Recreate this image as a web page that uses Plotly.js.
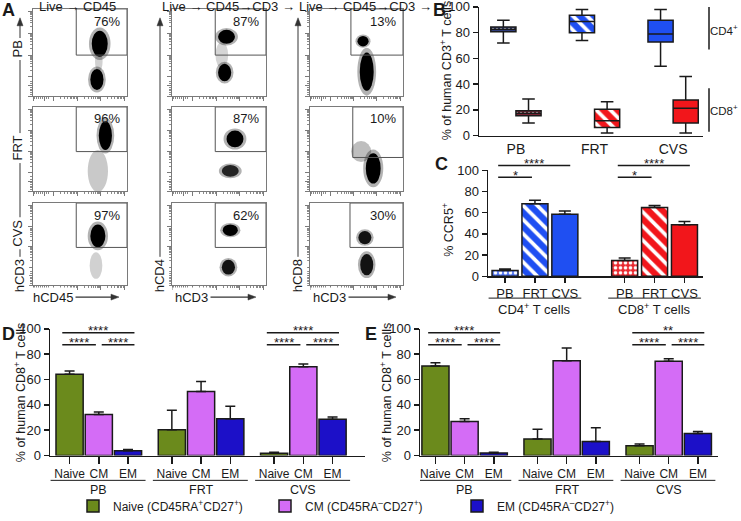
<!DOCTYPE html>
<html><head><meta charset="utf-8">
<script src="https://cdn.plot.ly/plotly-3.0.1.min.js"></script>
<style>html,body{margin:0;padding:0;background:#fff;}#chart{width:741px;height:521px;}</style>
</head><body><div id="chart"></div>
<script>
// ---------------- DATA ----------------
// Panel A: flow cytometry
const flowSites = ['PB', 'FRT', 'CVS'];
const flowGating = ['Live → CD45', 'Live → CD45→CD3 →', 'Live → CD45→CD3 →'];
const flowXMarker = ['hCD45', 'hCD3', 'hCD3'];
const flowYMarker = ['hCD3', 'hCD4', 'hCD8'];
const flowGatePercent = [76, 87, 13, 96, 87, 10, 97, 62, 30];
const flowGateXMin = [0.46, 0.46, 0.44, 0.46, 0.46, 0.46, 0.46, 0.46, 0.43];
const flowGateYMin = [0.47, 0.47, 0.47, 0.47, 0.47, 0.40, 0.46, 0.46, 0.46];
// cell populations (plot index, centre, spread, density)
const popPlot = [0, 0, 0, 1, 1, 1, 2, 2, 3, 3, 4, 4, 5, 5, 6, 6, 7, 7, 8, 8];
const popX    = [0.71, 0.68, 0.70, 0.58, 0.56, 0.53, 0.57, 0.61, 0.77, 0.69, 0.67, 0.62, 0.55, 0.68, 0.69, 0.67, 0.62, 0.60, 0.59, 0.61];
const popY    = [0.60, 0.19, 0.40, 0.68, 0.27, 0.47, 0.63, 0.28, 0.66, 0.24, 0.62, 0.24, 0.47, 0.27, 0.60, 0.24, 0.67, 0.22, 0.58, 0.25];
const popSX   = [0.085, 0.07, 0.03, 0.09, 0.07, 0.05, 0.06, 0.075, 0.07, 0.08, 0.09, 0.09, 0.08, 0.08, 0.08, 0.05, 0.08, 0.07, 0.07, 0.07];
const popSY   = [0.15, 0.12, 0.10, 0.08, 0.10, 0.12, 0.06, 0.22, 0.17, 0.20, 0.10, 0.07, 0.10, 0.18, 0.14, 0.13, 0.07, 0.09, 0.08, 0.13];
const popDensity = [1, 1, 0.2, 1, 1, 0.15, 1, 1, 1, 0.3, 1, 0.8, 0.45, 1, 1, 0.2, 1, 0.9, 0.9, 0.9];

// Panel B: % of human CD3+ T cells (box plots)
const sites = ['PB', 'FRT', 'CVS'];
const cd4Min = [72, 74, 54];
const cd4Q1 = [80.7, 80, 72.7];
const cd4Med = [82.7, 88.7, 79];
const cd4Q3 = [84.5, 93.6, 89.7];
const cd4Max = [89.7, 98, 98];
const cd8Min = [9.8, 2, 2];
const cd8Q1 = [15.5, 6.4, 9.8];
const cd8Med = [17.5, 11.6, 21.4];
const cd8Q3 = [19.3, 20.6, 27.8];
const cd8Max = [28.4, 26.3, 45.9];

// Panel C: % CCR5+
const ccr5CD4 = [5.6, 68.5, 58.6];
const ccr5CD4Err = [1.4, 3.3, 3.1];
const ccr5CD8 = [15, 65, 48.6];
const ccr5CD8Err = [2.4, 1.9, 3.1];
const ccr5Sig = ['*', '****'];

// Panels D & E: memory subsets
const subsets = ['Naive', 'CM', 'EM'];
const legendNames = ['Naive (CD45RA<sup>+</sup>CD27<sup>+</sup>)', 'CM (CD45RA<sup>–</sup>CD27<sup>+</sup>)', 'EM (CD45RA<sup>–</sup>CD27<sup>+</sup>)'];
const dNaive = [64.2, 20.3, 1.8],  dNaiveErr = [2.6, 15.5, 0.8];
const dCM    = [32.5, 50.6, 70.1], dCMErr    = [1.8, 7.8, 2.1];
const dEM    = [3.9, 29.1, 28.6],  dEMErr    = [0.8, 9.9, 1.8];
const eNaive = [70.6, 13, 7.8],    eNaiveErr = [2.6, 7.8, 1.3];
const eCM    = [26.8, 74.8, 74.5], eCMErr    = [2.3, 10.1, 1.9];
const eEM    = [2.1, 11.2, 17.4],  eEMErr    = [0.5, 10.8, 1.6];
const dSigPB = ['****', '****', '****'], dSigCVS = ['****', '****', '****'];
const eSigPB = ['****', '****', '****'], eSigCVS = ['**', '****', '****'];

// ---------------- HELPERS ----------------
const W = 741, H = 521;
const X = px => px / W, Y = py => 1 - py / H;
const FONT = 'Liberation Sans, Arial, Helvetica, sans-serif';
const INK = '#1a1a1a';
const BLUE = '#1f4ff2', RED = '#f2161b';
const GREEN = '#6b8a1c', PINK = '#d46cf6', NAVY = '#1c10c8';
const data = [], shapes = [], annotations = [];
const layout = {
  width: W, height: H, margin: {l: 0, r: 0, t: 0, b: 0},
  paper_bgcolor: '#fff', plot_bgcolor: 'rgba(0,0,0,0)',
  font: {family: FONT, size: 12, color: INK},
  barmode: 'overlay', showlegend: true,
  legend: {orientation: 'h', x: X(73), y: Y(511), xanchor: 'left', yanchor: 'middle',
           entrywidth: 147, entrywidthmode: 'pixels', font: {size: 12}, bgcolor: 'rgba(0,0,0,0)'},
  shapes, annotations
};
const ann = o => annotations.push(Object.assign({xref: 'paper', yref: 'paper', showarrow: false, font: {size: 12}}, o));
const pline = (x0, y0, x1, y1, color, w) => shapes.push({type: 'line', xref: 'paper', yref: 'paper',
  x0: X(x0), y0: Y(y0), x1: X(x1), y1: Y(y1), line: {color, width: w}});
const ptri = (pts, color) => shapes.push({type: 'path', xref: 'paper', yref: 'paper',
  path: 'M' + pts.map(p => X(p[0]) + ',' + Y(p[1])).join('L') + 'Z', fillcolor: color, line: {color, width: 0.5}});

// ---------------- PANEL A ----------------
const colPx = [[33, 127], [172, 266], [310, 403]];
const rowPx = [[9, 97], [108, 193], [205, 288]];
const flowMajor = [0, 0.12, 0.22, 0.47, 0.72, 0.97];
const flowMinor = [];
[0.02, 0.04, 0.06, 0.08, 0.10, 0.14, 0.17].forEach(v => flowMinor.push(v));
[0.22, 0.47, 0.72].forEach(s => { for (let k = 2; k <= 9; k++) flowMinor.push(s + 0.25 * Math.log10(k)); });
const flowAxisBase = () => ({range: [0, 1], showgrid: false, zeroline: false, showticklabels: false,
  showline: true, mirror: true, linecolor: '#7a7a7a', linewidth: 1, ticks: 'outside', ticklen: 4,
  tickcolor: '#7a7a7a', tickwidth: 1, tickvals: flowMajor,
  minor: {tickvals: flowMinor, ticks: 'outside', ticklen: 2, tickcolor: '#8a8a8a', tickwidth: 1}, fixedrange: true});

for (let k = 0; k < 9; k++) {
  const r = Math.floor(k / 3), c = k % 3, n = k + 1;
  const xn = n === 1 ? 'xaxis' : 'xaxis' + n, yn = n === 1 ? 'yaxis' : 'yaxis' + n;
  const xr = n === 1 ? 'x' : 'x' + n, yr = n === 1 ? 'y' : 'y' + n;
  layout[xn] = Object.assign(flowAxisBase(), {domain: [X(colPx[c][0]), X(colPx[c][1])], anchor: yr});
  layout[yn] = Object.assign(flowAxisBase(), {domain: [Y(rowPx[r][1]), Y(rowPx[r][0])], anchor: xr});
  data.push({type: 'scatter', x: [], y: [], xaxis: xr, yaxis: yr, showlegend: false});
  popPlot.forEach((p, i) => {
    if (p !== k) return;
    const d = popDensity[i];
    const haloA = d >= 0.5 ? 0.3 : 0.12 + 0.3 * d;
    shapes.push({type: 'circle', xref: xr, yref: yr, layer: 'above',
      x0: popX[i] - popSX[i] * 1.35, x1: popX[i] + popSX[i] * 1.35,
      y0: popY[i] - popSY[i] * 1.25, y1: popY[i] + popSY[i] * 1.25,
      fillcolor: 'rgba(0,0,0,' + haloA + ')', line: {width: 0}});
    if (d >= 0.5) shapes.push({type: 'circle', xref: xr, yref: yr, layer: 'above',
      x0: popX[i] - popSX[i], x1: popX[i] + popSX[i],
      y0: popY[i] - popSY[i], y1: popY[i] + popSY[i],
      fillcolor: 'rgba(0,0,0,' + d + ')', line: {width: 0}});
  });
  shapes.push({type: 'rect', xref: xr, yref: yr, layer: 'above', x0: flowGateXMin[k], x1: 1, y0: flowGateYMin[k], y1: 1,
    line: {color: '#555', width: 1}});
  annotations.push({xref: xr, yref: yr, x: 0.95, y: 0.97, xanchor: 'right', yanchor: 'top', showarrow: false,
    text: flowGatePercent[k] + '%', font: {size: 13}});
}
const headerPx = [37, 160, 297];
flowGating.forEach((t, c) => ann({x: X(headerPx[c]), y: Y(7), xanchor: 'left', yanchor: 'middle', text: t, font: {size: 13}}));
// vertical arrows (the labels below carry a white background that breaks the line)
const vArrowPx = [20, 160, 298];
vArrowPx.forEach(px => {
  pline(px, 278, px, 24, '#555', 1.2);
  ptri([[px, 18], [px - 3, 26], [px + 3, 26]], '#333');
});
flowSites.forEach((s, r) => ann({x: X(18), y: Y([50, 150, 236][r]), text: s, textangle: -90, font: {size: 13},
  bgcolor: '#fff', borderpad: 2, xanchor: 'center', yanchor: 'middle'}));
flowYMarker.forEach((t, c) => ann({x: X(vArrowPx[c] - 1), y: Y(279), text: t, textangle: -90, font: {size: 13},
  bgcolor: '#fff', borderpad: 2, xanchor: 'center', yanchor: 'middle'}));
const hTextPx = [30, 172, 310], hTipPx = [118, 255, 395];
flowXMarker.forEach((t, c) => {
  pline(hTextPx[c] + 30, 300, hTipPx[c] - 4, 300, '#333', 1.2);
  ptri([[hTipPx[c] + 1, 300], [hTipPx[c] - 7, 297], [hTipPx[c] - 7, 303]], '#333');
  ann({x: X(hTextPx[c]), y: Y(300), xanchor: 'left', yanchor: 'middle', text: t, font: {size: 13}, bgcolor: '#fff', borderpad: 2});
});

// ---------------- shared axis builders ----------------
const valAxis = (yPx, anchor) => ({domain: [Y(yPx[1]), Y(yPx[0])], anchor, range: [0, 100],
  tickvals: [0, 20, 40, 60, 80, 100], ticks: 'outside', ticklen: 5, tickwidth: 1.5, tickcolor: INK,
  showline: true, linewidth: 1.5, linecolor: INK, showgrid: false, zeroline: false, tickfont: {size: 13},
  ticklabeloverflow: 'allow', fixedrange: true});
const catAxis = (xPx, anchor, range, vals, texts, ticklen, fsize) => ({domain: [X(xPx[0]), X(xPx[1])], anchor, range,
  tickvals: vals, ticktext: texts, tickangle: 0, ticks: ticklen ? 'outside' : '', ticklen: ticklen || 0, tickwidth: 1.5, tickcolor: INK,
  showline: true, linewidth: 1.5, linecolor: INK, showgrid: false, zeroline: false,
  tickfont: {size: fsize}, ticklabeloverflow: 'allow', fixedrange: true});
const hline = (xref, x0, x1, ypx, w) => shapes.push({type: 'line', xref, yref: 'paper', x0, x1, y0: Y(ypx), y1: Y(ypx),
  line: {color: INK, width: w || 1.5}});
const sig = (xref, x0, x1, ypx, label) => {
  hline(xref, x0, x1, ypx, 1.5);
  annotations.push({xref, yref: 'paper', x: (x0 + x1) / 2, y: Y(ypx - 2), xanchor: 'center', yanchor: 'middle',
    showarrow: false, text: label, font: {size: 13}});
};
const yTitle = (xpx, ypx, text) => ann({x: X(xpx), y: Y(ypx), text, textangle: -90, xanchor: 'center', yanchor: 'middle', font: {size: 12.5}});
const patterned = (colors, fg, shape, size, sol) => ({color: colors,
  pattern: {shape, fgcolor: fg, fgopacity: 1, size, solidity: sol, fillmode: 'overlay'}});

// ---------------- PANEL B ----------------
layout.xaxis10 = catAxis([479, 703], 'y10', [-0.47, 2.38], [0, 1, 2], sites, 0, 14);
layout.yaxis10 = valAxis([7, 137], 'x10');
yTitle(446, 72, '% of human CD3<sup>+</sup> T cells');
const boxStyle = {
  cd4: patterned(['#2e3c7c', BLUE, BLUE], ['#8e9cd6', '#ffffff', BLUE], ['.', '\\', ''], [4, 10, 8], [0.22, 0.38, 0.3]),
  cd8: patterned(['#762232', RED, RED], ['#df96a0', '#ffffff', RED], ['.', '\\', ''], [4, 10, 8], [0.22, 0.38, 0.3])
};
[['cd4', cd4Q1, cd4Q3, -0.16], ['cd8', cd8Q1, cd8Q3, 0.16]].forEach(([key, q1, q3, off]) => {
  data.push({type: 'bar', xaxis: 'x10', yaxis: 'y10', showlegend: false, hoverinfo: 'skip',
    x: sites.map((_, i) => i + off), base: q1, y: q3.map((v, i) => v - q1[i]), width: 0.32,
    marker: Object.assign({line: {width: 0}}, boxStyle[key])});
});
[[cd4Min, cd4Q1, cd4Med, cd4Q3, cd4Max, -0.16], [cd8Min, cd8Q1, cd8Med, cd8Q3, cd8Max, 0.16]].forEach(([mn, q1, md, q3, mx, off]) => {
  data.push({type: 'box', xaxis: 'x10', yaxis: 'y10', showlegend: false, hoverinfo: 'skip',
    x: sites.map((_, i) => i + off), q1, median: md, q3, lowerfence: mn, upperfence: mx,
    width: 0.32, whiskerwidth: 0.5, boxpoints: false, fillcolor: 'rgba(0,0,0,0)', line: {color: INK, width: 1.5}});
});
pline(709, 7, 709, 50, INK, 1.5);
pline(709, 89, 709, 133, INK, 1.5);
ann({x: X(740), y: Y(30), xanchor: 'right', yanchor: 'middle', text: 'CD4<sup>+</sup>', font: {size: 11.5}});
ann({x: X(740), y: Y(111), xanchor: 'right', yanchor: 'middle', text: 'CD8<sup>+</sup>', font: {size: 11.5}});

// ---------------- PANEL C ----------------
layout.xaxis11 = catAxis([488, 703], 'y11', [-0.57, 6.62], [0, 1, 2, 4, 5, 6], sites.concat(sites), 5, 13);
layout.yaxis11 = valAxis([172, 279], 'x11');
yTitle(448, 232, '% CCR5<sup>+</sup>');
const ccr5Style = {
  cd4: patterned(['#4a6ff0', BLUE, BLUE], ['#ffffff', '#ffffff', BLUE], ['.', '\\', ''], [5, 10, 8], [0.4, 0.38, 0.3]),
  cd8: patterned(['#ea2a30', RED, RED], ['#ffffff', '#ffffff', RED], ['.', '\\', ''], [5, 10, 8], [0.4, 0.38, 0.3])
};
[['cd4', ccr5CD4, ccr5CD4Err, 0], ['cd8', ccr5CD8, ccr5CD8Err, 4]].forEach(([key, v, e, g]) => {
  data.push({type: 'bar', xaxis: 'x11', yaxis: 'y11', showlegend: false, hoverinfo: 'skip',
    x: sites.map((_, i) => g + i), y: v, width: 0.87,
    marker: Object.assign({line: {color: INK, width: 1.5}}, ccr5Style[key]),
    error_y: {type: 'data', symmetric: false, array: e, arrayminus: e.map(() => 0), color: INK, thickness: 1.5, width: 6}});
});
[['CD4<sup>+</sup> T cells', 0], ['CD8<sup>+</sup> T cells', 4]].forEach(([t, g]) => {
  hline('x11', g - 0.55, g + 2.55, 301, 1);
  annotations.push({xref: 'x11', yref: 'paper', x: g + 1, y: Y(312), xanchor: 'center', yanchor: 'middle', showarrow: false, text: t, font: {size: 13}});
  sig('x11', g - 0.23, g + 2.18, 167, ccr5Sig[1]);
  sig('x11', g - 0.23, g + 0.9, 179, ccr5Sig[0]);
});

// ---------------- PANELS D & E ----------------
function memoryPanel(n, xPx, range, titleX, series, errs, sigPB, sigCVS, showLeg) {
  const xr = 'x' + n, yr = 'y' + n;
  const vals = [], texts = [];
  sites.forEach((s, g) => subsets.forEach((t, i) => { vals.push(g * 3.5 + i); texts.push(t); }));
  layout['xaxis' + n] = catAxis(xPx, yr, range, vals, texts, 7, 12);
  layout['yaxis' + n] = valAxis([332, 460], xr);
  yTitle(titleX, 397, '% of human CD8<sup>+</sup> T cells');
  const colors = [GREEN, PINK, NAVY];
  series.forEach((v, i) => {
    data.push({type: 'bar', name: legendNames[i], xaxis: xr, yaxis: yr, showlegend: showLeg, hoverinfo: 'skip',
      x: sites.map((_, g) => g * 3.5 + i), y: v, width: 0.93,
      marker: {color: colors[i], line: {color: INK, width: 1.5}},
      error_y: {type: 'data', symmetric: false, array: errs[i], arrayminus: errs[i].map(() => 0), color: INK, thickness: 1.5, width: 5}});
  });
  sites.forEach((s, g) => {
    hline(xr, g * 3.5 - 0.65, g * 3.5 + 2.6, 485, 1);
    annotations.push({xref: xr, yref: 'paper', x: g * 3.5 + 1, y: Y(495), xanchor: 'center', yanchor: 'middle', showarrow: false, text: s, font: {size: 12.5}});
  });
  [[0, sigPB], [2, sigCVS]].forEach(([g, lab]) => {
    const o = g * 3.5;
    sig(xr, o - 0.25, o + 2.22, 336, lab[0]);
    sig(xr, o - 0.25, o + 0.9, 348, lab[1]);
    sig(xr, o + 1.1, o + 2.22, 348, lab[2]);
  });
}
memoryPanel(12, [50, 365], [-0.67, 10.11], 20, [dNaive, dCM, dEM], [dNaiveErr, dCMErr, dEMErr], dSigPB, dSigCVS, true);
memoryPanel(13, [420, 718], [-0.53, 9.69], 386, [eNaive, eCM, eEM], [eNaiveErr, eCMErr, eEMErr], eSigPB, eSigCVS, false);

// panel letters
[['A', 0, 10], ['B', 431, 10], ['C', 433, 166], ['D', 0, 337], ['E', 363, 337]].forEach(([t, x, y]) =>
  ann({x: X(x), y: Y(y), xanchor: 'left', yanchor: 'middle', text: '<b>' + t + '</b>', font: {size: 18}}));

Plotly.newPlot('chart', data, layout, {staticPlot: true, displayModeBar: false});
</script></body></html>
